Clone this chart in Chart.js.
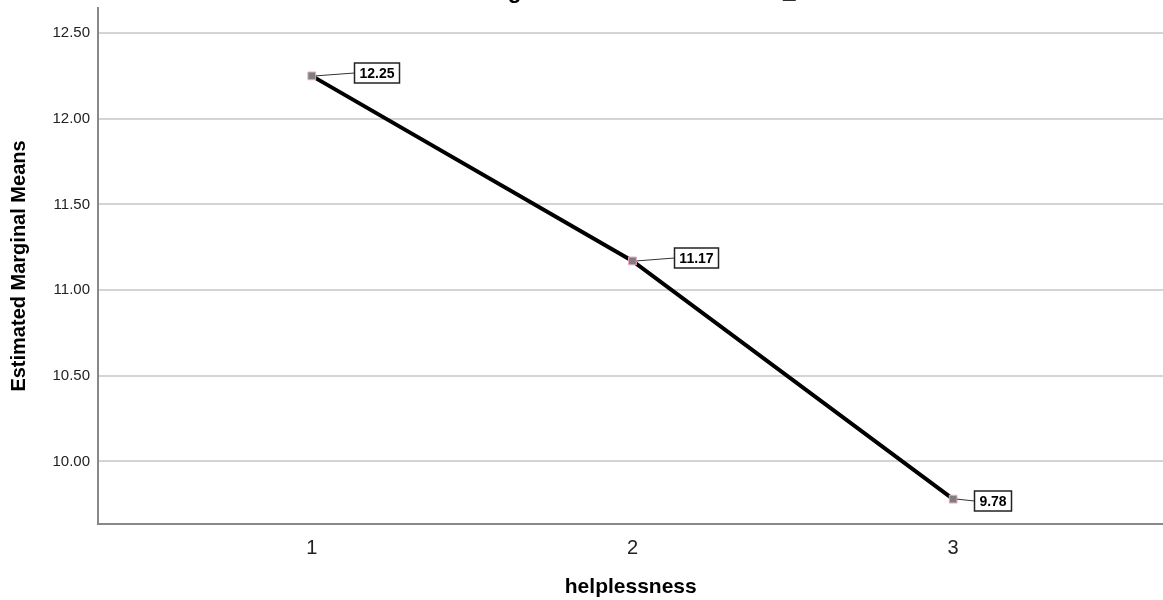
<!DOCTYPE html>
<html>
<head>
<meta charset="utf-8">
<script src="https://cdn.jsdelivr.net/npm/chart.js@4"></script>
<style>
  html, body { margin: 0; padding: 0; background: #fff; overflow: hidden; }
  #wrap { width: 1163px; height: 600px; overflow: hidden; }
</style>
</head>
<body>
<div id="wrap"><canvas id="chart" width="1170" height="600"></canvas></div>
<script>
// data
const categories = [1, 2, 3];
const means = [12.25, 11.17, 9.78];
const yTicks = [10.0, 10.5, 11.0, 11.5, 12.0, 12.5];

const chartTitle = 'Estimated Marginal Means of MEASURE_1';
const xTitle = 'helplessness';
const yTitle = 'Estimated Marginal Means';

// label box placement relative to the point: [dx to box left, dy of box centre]
const labelOffsets = [[42, -3], [42, -3], [21, 2]];

const FONT = "'Liberation Sans', Arial, sans-serif";

// title sits mostly above the canvas, only descenders show
const titlePlugin = {
    id: 'cutTitle',
    afterDraw(chart) {
        const ctx = chart.ctx;
        ctx.save();
        ctx.font = `bold 22.5px ${FONT}`;
        ctx.fillStyle = '#000';
        ctx.textAlign = 'center';
        ctx.textBaseline = 'alphabetic';
        ctx.fillText(chartTitle, 581, -2);
        ctx.restore();
    }
};

const boxLabels = {
    id: 'boxLabels',
    afterDatasetsDraw(chart) {
        const ctx = chart.ctx;
        const meta = chart.getDatasetMeta(0);
        ctx.save();
        ctx.font = `bold 14px ${FONT}`;
        meta.data.forEach((pt, i) => {
            const text = means[i].toFixed(2);
            const w = Math.round(ctx.measureText(text).width + 10);
            const h = 20;
            const bx = Math.round(pt.x + labelOffsets[i][0]) + 0.5;
            const cy = Math.round(pt.y + labelOffsets[i][1]);
            // leader line
            ctx.strokeStyle = '#333';
            ctx.lineWidth = 1;
            ctx.beginPath();
            ctx.moveTo(pt.x + 4, pt.y);
            ctx.lineTo(bx, cy);
            ctx.stroke();
            // box
            ctx.fillStyle = '#fff';
            ctx.fillRect(bx, cy - h / 2, w, h);
            ctx.strokeStyle = '#222';
            ctx.lineWidth = 1.5;
            ctx.strokeRect(bx, cy - h / 2, w, h);
            ctx.fillStyle = '#000';
            ctx.textAlign = 'center';
            ctx.textBaseline = 'middle';
            ctx.fillText(text, bx + w / 2, cy + 1);
        });
        ctx.restore();
    }
};

new Chart(document.getElementById('chart'), {
    type: 'line',
    data: {
        datasets: [{
            data: categories.map((c, i) => ({ x: c, y: means[i] })),
            borderColor: '#000',
            borderWidth: 4,
            pointStyle: 'rect',
            pointRadius: 5.5,
            pointBackgroundColor: '#7f7f7f',
            pointBorderColor: '#f0a8c8',
            pointBorderWidth: 1,
            tension: 0
        }]
    },
    options: {
        responsive: false,
        animation: false,
        layout: { padding: { top: 8, right: 0, left: 0, bottom: 0 } },
        plugins: {
            legend: { display: false },
            tooltip: { enabled: false }
        },
        scales: {
            x: {
                type: 'linear',
                min: 1 / 3,
                max: 3.656,
                afterBuildTicks: axis => { axis.ticks = categories.map(v => ({ value: v })); },
                afterFit: axis => {
                    axis.height = 76;
                    axis.paddingLeft = 0;
                    axis.paddingRight = 0;
                },
                grid: { color: 'rgba(0,0,0,0)', drawTicks: false },
                border: { color: '#888', width: 2 },
                ticks: {
                    padding: 12,
                    color: '#222',
                    font: { family: FONT, size: 20 },
                    callback: v => String(v)
                },
                title: {
                    display: true,
                    text: xTitle,
                    color: '#000',
                    font: { family: FONT, size: 21, weight: 'bold', lineHeight: 1.2 },
                    padding: { top: 0, bottom: 0 }
                }
            },
            y: {
                min: 9.635,
                max: 12.646,
                afterBuildTicks: axis => { axis.ticks = yTicks.map(v => ({ value: v })); },
                afterFit: axis => {
                    axis.width = 98;
                    axis.paddingTop = 0;
                    axis.paddingBottom = 0;
                },
                grid: { color: '#d4d4d4', lineWidth: 2, drawTicks: false },
                border: { color: '#888', width: 2 },
                ticks: {
                    padding: 8,
                    color: '#222',
                    font: { family: FONT, size: 15 },
                    callback: v => v.toFixed(2)
                },
                title: {
                    display: true,
                    text: yTitle,
                    color: '#000',
                    font: { family: FONT, size: 20, weight: 'bold', lineHeight: 1.2 },
                    padding: { top: 7, bottom: 0 }
                }
            }
        }
    },
    plugins: [titlePlugin, boxLabels]
});
</script>
</body>
</html>
